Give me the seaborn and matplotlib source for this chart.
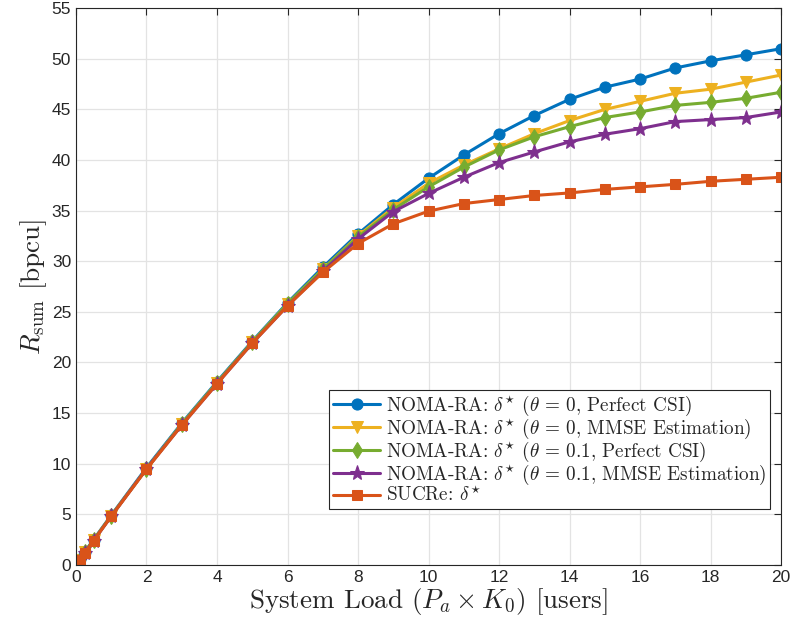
import matplotlib
matplotlib.use("Agg")
import matplotlib.pyplot as plt
import pandas as pd
import seaborn as sns

# system load values (x axis)
load = [0.1, 0.25, 0.5, 1, 2, 3, 4, 5, 6, 7, 8, 9, 10,
        11, 12, 13, 14, 15, 16, 17, 18, 19, 20]

noma_t0_csi = [0.55, 1.3, 2.5, 4.9, 9.6, 14.0, 18.1, 22.1, 25.9, 29.4, 32.7, 35.6, 38.2,
               40.5, 42.6, 44.4, 46.0, 47.2, 48.0, 49.1, 49.8, 50.4, 51.0]
noma_t0_mmse = [0.5, 1.25, 2.45, 4.85, 9.5, 13.9, 18.0, 22.0, 25.8, 29.2, 32.5, 35.3, 37.7,
                39.5, 41.1, 42.6, 43.9, 45.0, 45.8, 46.6, 47.0, 47.7, 48.4]
noma_t01_csi = [0.5, 1.25, 2.45, 4.85, 9.5, 13.9, 18.0, 22.0, 25.8, 29.2, 32.4, 35.1, 37.35,
                39.3, 41.0, 42.3, 43.3, 44.2, 44.75, 45.4, 45.7, 46.1, 46.7]
noma_t01_mmse = [0.5, 1.2, 2.4, 4.8, 9.5, 13.8, 17.9, 21.9, 25.6, 29.0, 32.2, 34.9, 36.7,
                 38.3, 39.75, 40.8, 41.8, 42.55, 43.1, 43.8, 44.0, 44.2, 44.75]
sucre = [0.45, 1.2, 2.4, 4.8, 9.45, 13.8, 17.9, 21.9, 25.6, 28.9, 31.75, 33.7, 34.95,
         35.7, 36.1, 36.5, 36.75, 37.1, 37.35, 37.6, 37.9, 38.1, 38.3]

labels = [r'NOMA-RA: $\delta^{\star}$ ($\theta$ = 0, Perfect CSI)',
          r'NOMA-RA: $\delta^{\star}$ ($\theta$ = 0, MMSE Estimation)',
          r'NOMA-RA: $\delta^{\star}$ ($\theta$ = 0.1, Perfect CSI)',
          r'NOMA-RA: $\delta^{\star}$ ($\theta$ = 0.1, MMSE Estimation)',
          r'SUCRe: $\delta^{\star}$']
series = [noma_t0_csi, noma_t0_mmse, noma_t01_csi, noma_t01_mmse, sucre]
colors = ['#0072BD', '#EDB120', '#77AC30', '#7E2F8E', '#D95319']
markers = ['o', 'v', 'd', '*', 's']
msizes = [8, 9, 8, 11, 7]

sns.set_style("white")
plt.rcParams['mathtext.fontset'] = 'cm'
plt.rcParams['font.family'] = ['Liberation Sans', 'DejaVu Sans']

fig = plt.figure(figsize=(7.94, 6.34), dpi=100)
ax = fig.add_axes([0.0957, 0.109, 0.888, 0.878])

for ys, lab, c, m, ms in zip(series, labels, colors, markers, msizes):
    df = pd.DataFrame({'load': load, 'rate': ys})
    sns.lineplot(data=df, x='load', y='rate', ax=ax, color=c, marker=m,
                 markersize=ms, markeredgecolor=c, linewidth=2.2, label=lab)

ax.set_xlim(0, 20)
ax.set_ylim(0, 55)
ax.set_xticks(range(0, 21, 2))
ax.set_yticks(range(0, 56, 5))
ax.grid(True, color='#e3e3e3', linewidth=0.9)
ax.tick_params(direction='in', top=True, right=True, labelsize=12.5,
               colors='#262626', length=5, width=0.8)
for s in ax.spines.values():
    s.set_color('#262626')
    s.set_linewidth(0.8)

ax.set_xlabel(r'System Load ($P_a \times K_0$) [users]', fontfamily='cmr10',
              fontsize=19.5, color='#262626', labelpad=1)
ax.set_ylabel(r'$R_{\mathrm{sum}}$ [bpcu]', fontfamily='cmr10',
              fontsize=19.5, color='#262626', labelpad=2)

leg = ax.legend(loc='lower right', bbox_to_anchor=(0.985, 0.1),
                prop={'family': 'cmr10', 'size': 13.8}, frameon=True,
                fancybox=False, edgecolor='#262626', framealpha=1,
                labelspacing=-0.06, handlelength=2.5, handletextpad=0.3,
                borderpad=0.2, borderaxespad=0)
leg.get_frame().set_linewidth(0.8)

fig.savefig('out.png', dpi=100)
